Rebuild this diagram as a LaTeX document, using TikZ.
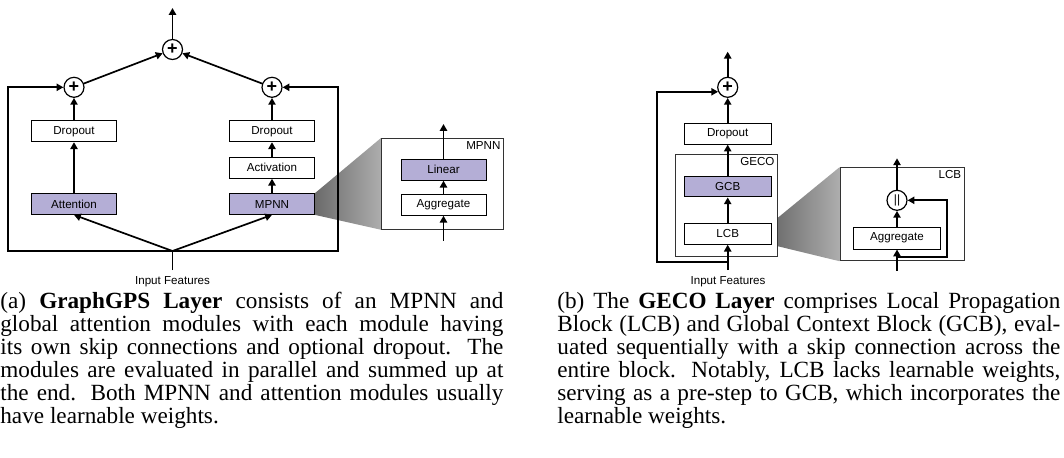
\documentclass[tikz,border=0pt]{standalone}
\usepackage{fontspec}
\setmainfont{Liberation Serif}
\setsansfont{Liberation Sans}
\usetikzlibrary{arrows.meta,backgrounds}
\definecolor{lav}{RGB}{180,174,214}

\begin{document}
\begin{tikzpicture}[x=0.5pt, y=-0.5pt,
		arr/.style={-{Triangle[length=3.4pt,width=3.6pt]}, line width=0.85pt},
		conn/.style={line width=0.85pt},
		lbl/.style={font=\sffamily\fontsize{5.8}{7}\selectfont},
		blk/.style={lbl, draw, line width=0.5pt, fill=white, minimum width=42.5pt, minimum height=10.4pt, inner sep=0pt},
		learn/.style={blk, fill=lav},
		insetbox/.style={draw=black!80, line width=0.5pt, fill=white, inner sep=0pt},
		tag/.style={lbl, anchor=north east, inner sep=1.5pt},
		plusop/.style={circle, draw, line width=0.6pt, fill=white, minimum size=10pt, inner sep=0pt, font=\sffamily\bfseries\fontsize{9}{9}\selectfont},
		catop/.style={plusop, font=\sffamily\fontsize{6}{6}\selectfont},
		zoomfan/.style={left color=black!58, right color=black!32},
		captext/.style={anchor=north west, inner sep=0pt, text width=251.5pt, align=justify, font=\fontsize{11.6}{11.5}\selectfont}]
		\useasboundingbox (0,0) rectangle (1064,457);

		% GraphGPS layer: sums
		\node[plusop] (plusT) at (172.5,49.5) {+};
		\node[plusop] (plusL) at (74,87.3) {+};
		\node[plusop] (plusR) at (272,87.3) {+};

		% Attention branch
		\node[blk] (dropL) at (74,131.3) {Dropout};
		\node[learn] (attn) at (74,204) {Attention};

		% MPNN branch
		\node[blk] (dropR) at (272,131.3) {Dropout};
		\node[blk] (act) at (272,167.8) {Activation};
		\node[learn] (mpnn) at (272,204) {MPNN};

		% Input and skip corners
		\coordinate (outA) at (172.5,8);
		\coordinate (inA) at (172.5,251);
		\coordinate (srcA) at (172.5,270);
		\coordinate (skipAL) at (8.3,251);
		\coordinate (skipAR) at (338.3,251);
		\node[lbl] (inpA) at (172.5,281.5) {Input Features};

		\draw[arr] (plusT) -- (outA);
		\draw[arr] (plusL) -- (plusT);
		\draw[arr] (plusR) -- (plusT);
		\draw[arr] (dropL) -- (plusL);
		\draw[arr] (attn) -- (dropL);
		\draw[arr] (dropR) -- (plusR);
		\draw[arr] (act) -- (dropR);
		\draw[arr] (mpnn) -- (act);
		\draw[conn] (srcA) -- (inA);
		\draw[arr] (inA) -- (attn.south);
		\draw[arr] (inA) -- (mpnn.south);
		\draw[arr] (inA) -- (skipAL) |- (plusL);
		\draw[arr] (inA) -- (skipAR) |- (plusR);

		% MPNN zoom-in
		\node[insetbox, minimum width=60.8pt, minimum height=45.5pt] (mpnnIn) at (442.5,183.8) {};
		\node[tag] (mpnnTag) at (mpnnIn.north east) {MPNN};
		\node[learn] (lin) at (443.5,169.8) {Linear};
		\node[blk] (agg) at (443.5,204.8) {Aggregate};
		\coordinate (aggIn) at (443.5,240.7);
		\coordinate (linOut) at (443.5,124);
		\draw[arr] (aggIn) -- (agg);
		\draw[arr] (agg) -- (lin);
		\draw[arr] (lin) -- (linOut);

		% GECO layer
		\node[plusop] (plusB) at (727.7,87.3) {+};
		\node[insetbox, minimum width=50.8pt, minimum height=51.2pt] (geco) at (726.5,205.5) {};
		\node[tag] (gecoTag) at (geco.north east) {GECO};
		\node[blk, minimum width=43.3pt] (dropB) at (727.7,133.7) {Dropout};
		\node[learn, minimum width=43.3pt] (gcb) at (727.7,186.5) {GCB};
		\node[blk, minimum width=43.3pt] (lcb) at (727.7,233.8) {LCB};
		\coordinate (outB) at (727.7,51.7);
		\coordinate (inB) at (727.7,261.7);
		\coordinate (srcB) at (727.7,270);
		\coordinate (skipB) at (656.7,261.7);
		\node[lbl] (inpB) at (728,281.5) {Input Features};

		\draw[arr] (plusB) -- (outB);
		\draw[arr] (dropB) -- (plusB);
		\draw[arr] (gcb) -- (dropB);
		\draw[arr] (lcb) -- (gcb);
		\draw[arr] (srcB) -- (lcb);
		\draw[arr] (inB) -- (skipB) |- (plusB.205);

		% LCB zoom-in
		\node[insetbox, minimum width=62pt, minimum height=46.5pt] (lcbIn) at (902,214.2) {};
		\node[tag] (lcbTag) at (lcbIn.north east) {LCB};
		\node[catop] (cat) at (897,200.3) {||};
		\node[blk, minimum width=43.3pt, minimum height=10.8pt] (agg2) at (897,238.2) {Aggregate};
		\coordinate (catOut) at (897,158.3);
		\coordinate (aggIn2) at (897,270.7);
		\coordinate (catJ) at (897,256.7);
		\coordinate (catR) at (946.7,256.7);
		\draw[arr] (aggIn2) -- (agg2);
		\draw[arr] (agg2) -- (cat);
		\draw[arr] (cat) -- (catOut);
		\draw[arr] (catJ) -- (catR) |- (cat);

		% zoom fans behind the insets
		\begin{pgfonlayer}{background}
			\shade[zoomfan] (mpnn.north east) -- (mpnnIn.north west) -- (mpnnIn.south west) -- (mpnn.south east) -- cycle;
			\shade[zoomfan] (lcb.north east) -- (lcbIn.north west) -- (lcbIn.south west) -- (lcb.south east) -- cycle;
		\end{pgfonlayer}

		% Captions
		\node[captext] (capA) at (0,292) {(a) \textbf{GraphGPS Layer} consists of an MPNN and\linebreak
			global attention modules with each module having\linebreak
			its own skip connections and optional dropout. The\linebreak
			modules are evaluated in parallel and summed up at\linebreak
			the end. Both MPNN and attention modules usually\linebreak
			have learnable weights.};
		\node[captext] (capB) at (557,292) {(b) The \textbf{GECO Layer} comprises Local Propagation\linebreak
			Block (LCB) and Global Context Block (GCB), eval-\linebreak
			uated sequentially with a skip connection across the\linebreak
			entire block. Notably, LCB lacks learnable weights,\linebreak
			serving as a pre-step to GCB, which incorporates the\linebreak
			learnable weights.};
	\end{tikzpicture}
\end{document}
